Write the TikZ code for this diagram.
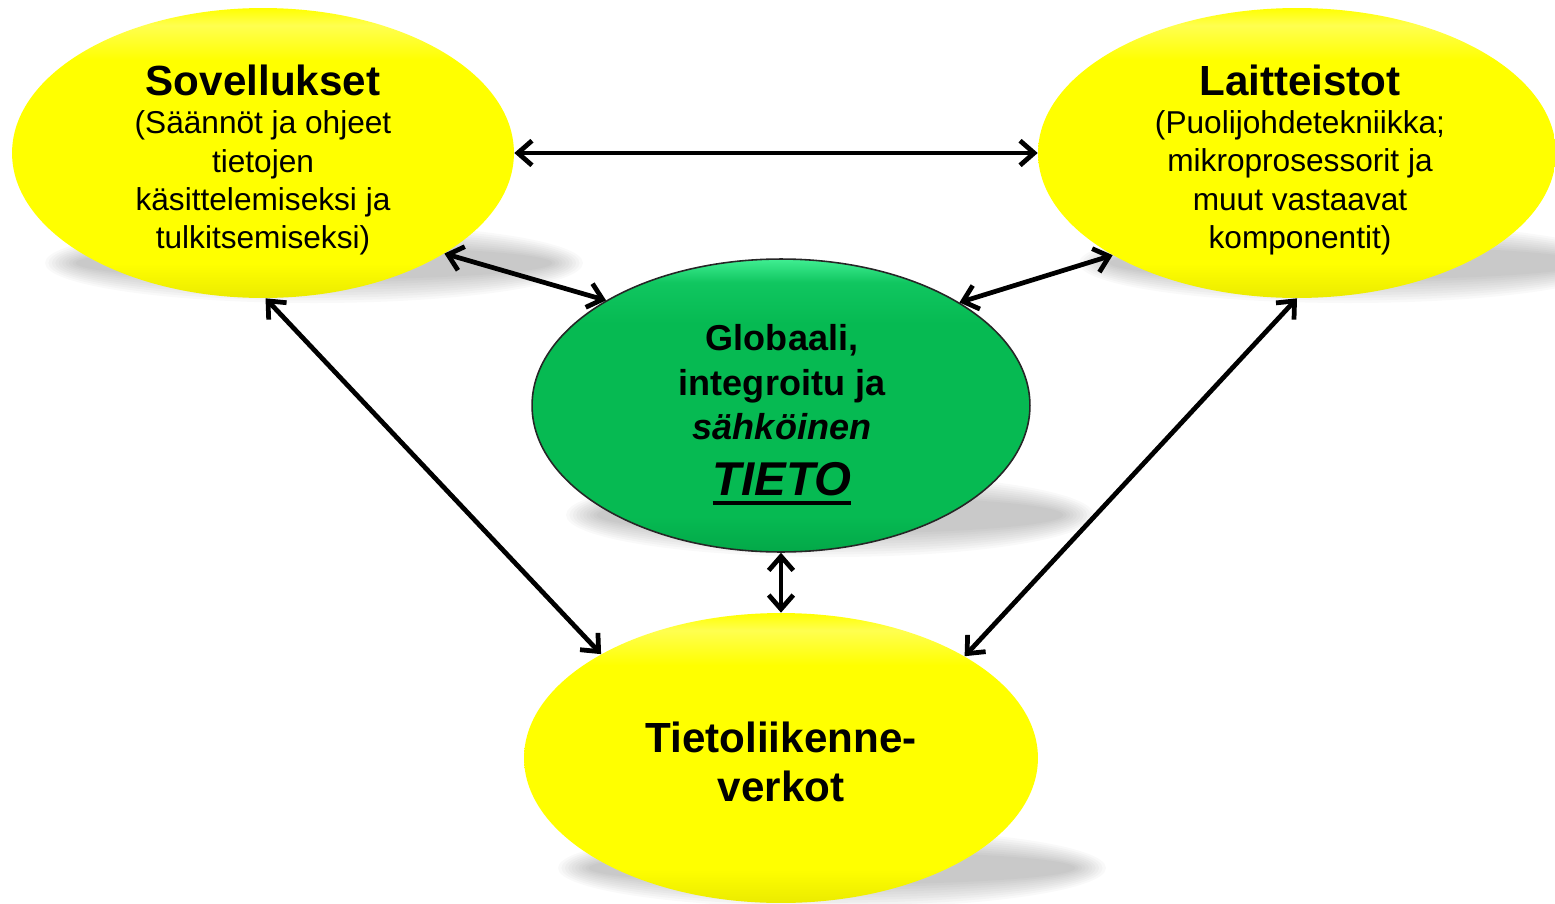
\documentclass[tikz,border=0pt]{standalone}
\usepackage{fontspec}
\setmainfont{Liberation Sans}
\usetikzlibrary{arrows.meta,shapes.geometric}

\definecolor{ydark}{HTML}{EBEB00}
\definecolor{ymain}{HTML}{FFFF00}
\definecolor{ylight}{HTML}{FFFF50}
\definecolor{gdark}{HTML}{03A848}
\definecolor{gmain}{HTML}{06BA52}
\definecolor{gmid}{HTML}{10C660}
\definecolor{glight}{HTML}{40EE92}

\pgfdeclareverticalshading{yellowbevel}{100bp}{color(0bp)=(ydark); color(25bp)=(ydark); color(31bp)=(ymain); color(66bp)=(ymain); color(72bp)=(ylight); color(75bp)=(ymain); color(100bp)=(ymain)}
\pgfdeclareverticalshading{greenbevel}{100bp}{color(0bp)=(gdark); color(25bp)=(gdark); color(31bp)=(gmain); color(64bp)=(gmain); color(71bp)=(gmid); color(75bp)=(glight); color(100bp)=(glight)}

\newcommand\thickul[1]{\vtop{\hbox{#1}\kern2.6pt\hrule height 2.3pt}}
\newcommand\softshadow[4]{%
  \foreach \k in {0,...,9}{%
    \fill[black,opacity=0.024] (#1,#2) ellipse [x radius={(#3+14-3.4*\k)*0.02cm}, y radius={(#4+12-2.6*\k)*0.02cm}];
  }}

\tikzset{
  yell/.style={ellipse, shading=yellowbevel, inner sep=0pt, draw=none},
  grn/.style={ellipse, shading=greenbevel, inner sep=0pt, draw=black!85, line width=0.9pt},
  dbl/.style={line width=2.7pt, {Straight Barb[length=8pt,width=14pt]}-{Straight Barb[length=8pt,width=14pt]}},
  txt/.style={align=center, inner sep=0pt, text=black},
}

\begin{document}
\begin{tikzpicture}[x=0.02cm, y=-0.02cm]
\useasboundingbox (0,0) rectangle (1555,903);
\clip (0,0) rectangle (1555,903);

% soft shadows
\softshadow{314}{263}{255}{28}
\softshadow{1348}{263}{255}{28}
\softshadow{830}{515}{250}{30}
\softshadow{832}{868}{260}{28}

% ellipses
\node[yell, minimum width=10.04cm, minimum height=5.8cm] (sov) at (263,153) {};
\node[yell, minimum width=10.36cm, minimum height=5.8cm] (lai) at (1297,153) {};
\node[grn, minimum width=9.96cm, minimum height=5.86cm] (glob) at (781,405.5) {};
\node[yell, minimum width=10.28cm, minimum height=5.8cm] (tiet) at (781,758) {};

% connectors
\draw[dbl] (sov.east) -- (lai.west);
\draw[dbl] (sov.-29.5) -- (glob.149.8);
\draw[dbl] (lai.-151) -- (glob.30.2);
\draw[dbl] (sov.-89.3) -- (tiet.150.6);
\draw[dbl] (lai.-90) -- (tiet.29.1);
\draw[dbl] (glob.south) -- (tiet.north);

% texts
\node[txt, font=\fontsize{18}{21.7}\selectfont] (sovtxt) at (263,160)
  {{\fontsize{24}{21.7}\selectfont\bfseries Sovellukset}\\(Säännöt ja ohjeet\\tietojen\\käsittelemiseksi ja\\tulkitsemiseksi)};
\node[txt, font=\fontsize{18}{21.7}\selectfont] (laitxt) at (1300,160)
  {{\fontsize{24}{21.7}\selectfont\bfseries Laitteistot}\\(Puolijohdetekniikka;\\mikroprosessorit ja\\muut vastaavat\\komponentit)};
\node[txt, font=\bfseries\fontsize{20.5}{25.5}\selectfont] (globtxt) at (782,414.5)
  {Globaali,\\integroitu ja\\\textit{sähköinen}\\[6.3pt]{\fontsize{27}{30}\selectfont\thickul{\textit{TIETO}}}};
\node[txt, font=\bfseries\fontsize{24}{27.8}\selectfont] (tiettxt) at (781,761.5)
  {Tietoliikenne-\\verkot};
\end{tikzpicture}
\end{document}
